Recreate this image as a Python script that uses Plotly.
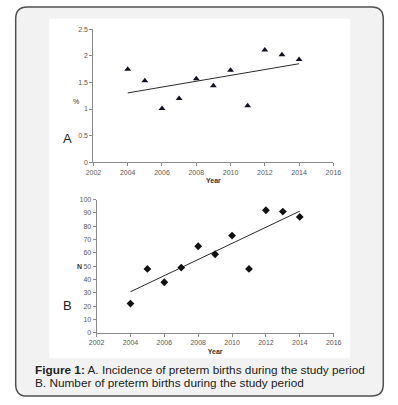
import numpy as np
import plotly.graph_objects as go

W, H = 398, 405

years = [2004, 2005, 2006, 2007, 2008, 2009, 2010, 2011, 2012, 2013, 2014]
incidence_pct = [1.75, 1.53, 1.01, 1.20, 1.57, 1.44, 1.73, 1.06, 2.11, 2.02, 1.93]
preterm_n = [22, 48, 38, 49, 65, 59, 73, 48, 92, 91, 87]

x_ticks = [2002, 2004, 2006, 2008, 2010, 2012, 2014, 2016]
a_ticks = [0, 0.5, 1, 1.5, 2, 2.5]
a_tick_text = ["0", "0.5", "1", "1.5", "2", "2.5"]
b_ticks = [0, 10, 20, 30, 40, 50, 60, 70, 80, 90, 100]

caption_1_bold = "Figure 1:"
caption_1 = " A. Incidence of preterm births during the study period"
caption_2 = "B. Number of preterm births during the study period"


def px(x):
    return x / W


def py(y):
    return 1 - y / H


def trend(xs, ys):
    k, b = np.polyfit(xs, ys, 1)
    xx = np.array([xs[0], xs[-1]], dtype=float)
    return xx, k * xx + b


fig = go.Figure()

ta_x, ta_y = trend(years, incidence_pct)
tb_x, tb_y = trend(years, preterm_n)

fig.add_trace(go.Scatter(x=ta_x, y=ta_y, mode="lines", line=dict(color="#2b2b2b", width=1),
                         xaxis="x", yaxis="y", showlegend=False, hoverinfo="skip"))
fig.add_trace(go.Scatter(x=years, y=incidence_pct, mode="markers",
                         marker=dict(symbol="triangle-up", size=6, color="#111122"),
                         xaxis="x", yaxis="y", showlegend=False))
fig.add_trace(go.Scatter(x=tb_x, y=tb_y, mode="lines", line=dict(color="#2b2b2b", width=1),
                         xaxis="x2", yaxis="y2", showlegend=False, hoverinfo="skip"))
fig.add_trace(go.Scatter(x=years, y=preterm_n, mode="markers",
                         marker=dict(symbol="diamond", size=6, color="#111111"),
                         xaxis="x2", yaxis="y2", showlegend=False))

FONT = "Liberation Sans, Arial, sans-serif"
tick_font = dict(family=FONT, size=7, color="#595959")
title_font = dict(family=FONT, size=7, color="#333333")
axis_common = dict(showgrid=False, zeroline=False, showline=True, linecolor="#8a8a8a",
                   linewidth=1, ticks="outside", ticklen=3, tickcolor="#8a8a8a",
                   tickfont=tick_font, fixedrange=True)

# rounded border box
x0, y0, x1, y1, r = 8, 3, 391, 399, 12
path = (f"M {px(x0 + r)},{py(y0)} L {px(x1 - r)},{py(y0)} Q {px(x1)},{py(y0)} {px(x1)},{py(y0 + r)} "
        f"L {px(x1)},{py(y1 - r)} Q {px(x1)},{py(y1)} {px(x1 - r)},{py(y1)} "
        f"L {px(x0 + r)},{py(y1)} Q {px(x0)},{py(y1)} {px(x0)},{py(y1 - r)} "
        f"L {px(x0)},{py(y0 + r)} Q {px(x0)},{py(y0)} {px(x0 + r)},{py(y0)} Z")

fig.update_layout(
    width=W, height=H,
    margin=dict(l=0, r=0, t=0, b=0),
    paper_bgcolor="white", plot_bgcolor="rgba(0,0,0,0)",
    xaxis=dict(domain=[px(89), px(339)], range=[2002, 2016], tickvals=x_ticks,
               anchor="y", title=dict(text="<b>Year</b>", font=title_font, standoff=3), **axis_common),
    yaxis=dict(domain=[py(161), py(25.7)], range=[0, 2.5], tickvals=a_ticks, ticktext=a_tick_text,
               anchor="x", **axis_common),
    xaxis2=dict(domain=[px(92.3), px(339.3)], range=[2002, 2016], tickvals=x_ticks,
                anchor="y2", title=dict(text="<b>Year</b>", font=title_font, standoff=3), **axis_common),
    yaxis2=dict(domain=[py(334.7), py(199)], range=[0, 100], tickvals=b_ticks,
                anchor="x2", **axis_common),
    shapes=[
        dict(type="path", path=path, xref="paper", yref="paper",
             fillcolor="#f2f2f2", line=dict(color="#505050", width=1.5), layer="below"),
        dict(type="rect", xref="paper", yref="paper", x0=px(43), x1=px(356.5), y0=py(360.5), y1=py(15),
             fillcolor="white", line=dict(width=0), layer="below"),
    ],
    annotations=[
        dict(text="%", x=px(66), y=py(94), xref="paper", yref="paper", showarrow=False,
             font=dict(family=FONT, size=7, color="#333333")),
        dict(text="<b>N</b>", x=px(70), y=py(267), xref="paper", yref="paper", showarrow=False,
             font=dict(family=FONT, size=7, color="#333333")),
        dict(text="A", x=px(55), y=py(137), xref="paper", yref="paper", showarrow=False,
             font=dict(family=FONT, size=13, color="#222222")),
        dict(text="B", x=px(55.5), y=py(316), xref="paper", yref="paper", showarrow=False,
             font=dict(family=FONT, size=13, color="#222222")),
        dict(text=f"<b>{caption_1_bold}</b>{caption_1}", x=px(27.5), y=py(372.3), xref="paper", yref="paper",
             xanchor="left", yanchor="middle", showarrow=False, borderpad=0,
             font=dict(family=FONT, size=11.8, color="#222222")),
        dict(text=caption_2, x=px(27.5), y=py(385.6), xref="paper", yref="paper",
             xanchor="left", yanchor="middle", showarrow=False, borderpad=0,
             font=dict(family=FONT, size=11.8, color="#222222")),
    ],
)

fig.write_html("out.html", config={"displayModeBar": False},
               post_script="document.body.style.margin='0';document.body.style.padding='0';"
                           "document.body.style.overflow='hidden';")
